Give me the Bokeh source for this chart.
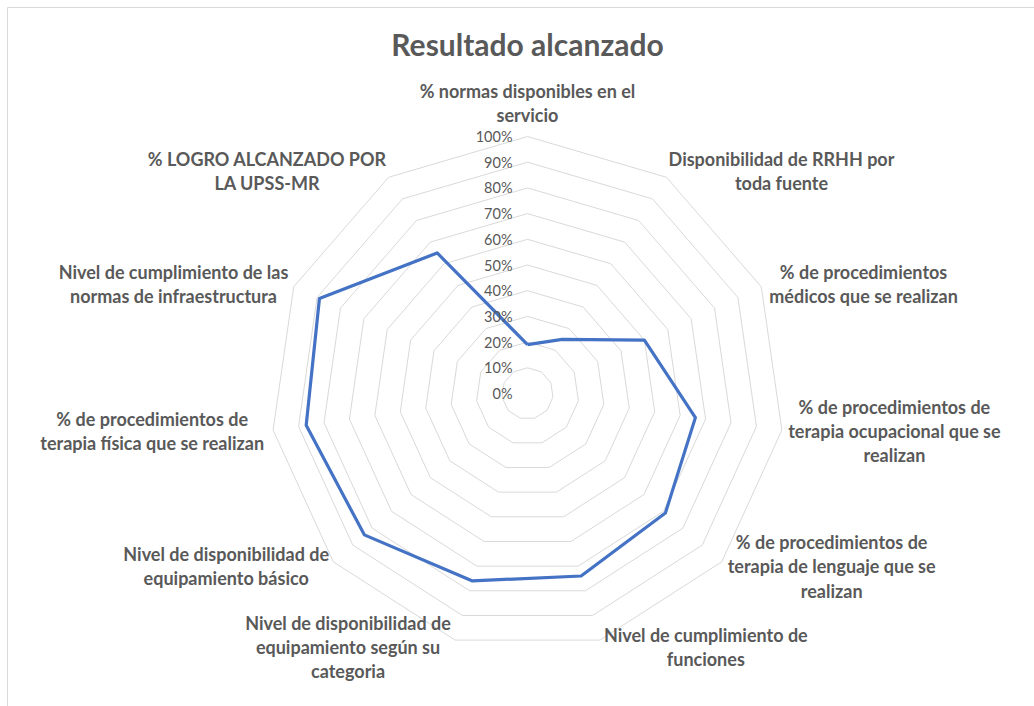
import numpy as np
from bokeh.plotting import figure
from bokeh.models import Range1d
from bokeh.core.properties import value
from bokeh.embed import file_html
from bokeh.resources import INLINE

# ---------------- data ----------------
categories = [
    "% normas disponibles en el\nservicio",
    "Disponibilidad de RRHH por\ntoda fuente",
    "% de procedimientos\nmédicos que se realizan",
    "% de procedimientos de\nterapia ocupacional que se\nrealizan",
    "% de procedimientos de\nterapia de lenguaje que se\nrealizan",
    "Nivel de cumplimiento de\nfunciones",
    "Nivel de disponibilidad de\nequipamiento según su\ncategoria",
    "Nivel de disponibilidad de\nequipamiento básico",
    "% de procedimientos de\nterapia física que se realizan",
    "Nivel de cumplimiento de las\nnormas de infraestructura",
    "% LOGRO ALCANZADO POR\nLA UPSS-MR",
]
values = [0.19, 0.25, 0.50, 0.66, 0.71, 0.74, 0.76, 0.84, 0.87, 0.89, 0.65]
ticks = [0.0, 0.1, 0.2, 0.3, 0.4, 0.5, 0.6, 0.7, 0.8, 0.9, 1.0]
tick_labels = ["0%", "10%", "20%", "30%", "40%", "50%", "60%", "70%", "80%", "90%", "100%"]
title_text = "Resultado alcanzado"

# ---------------- layout ----------------
W, H = 1034, 706
CX, CY, R = 527, 393, 257  # centre (px) and 100% radius (px)
LABEL_FONT = "Lato"
LABEL_SIZE = 18
LINE_PX = 23.5
GREY = "#595959"

n = len(categories)
theta = np.arange(n) * 2 * np.pi / n
sx, cy = np.sin(theta), np.cos(theta)

p = figure(width=W, height=H, output_backend="svg", toolbar_location=None,
           x_range=Range1d(-CX / R, (W - CX) / R),
           y_range=Range1d(-(H - CY) / R, CY / R),
           min_border=0, min_border_left=0, min_border_right=0,
           min_border_top=0, min_border_bottom=0)
p.axis.visible = False
p.grid.visible = False
p.outline_line_color = None
p.background_fill_color = "white"
p.border_fill_color = "white"

# chart area border (left and top edges visible)
bx = (7 - CX) / R
by = (CY - 7) / R
p.line([bx, bx, (W + 20 - CX) / R], [-(H + 20 - CY) / R, by, by],
       line_color="#d9d9d9", line_width=1)

# rings
ring_xs, ring_ys = [], []
for t in ticks[1:]:
    ring_xs.append(list(t * np.append(sx, sx[0])))
    ring_ys.append(list(t * np.append(cy, cy[0])))
p.multi_line(ring_xs, ring_ys, line_color="#d9d9d9", line_width=1)

# data series
vx = np.array(values) * sx
vy = np.array(values) * cy
p.line(list(np.append(vx, vx[0])), list(np.append(vy, vy[0])),
       line_color="#4472C4", line_width=3.2, line_join="round")

# tick labels
p.text(x=[0] * len(ticks), y=ticks, text=tick_labels, x_offset=-15,
       text_align="right", text_baseline="middle",
       text_font=value(LABEL_FONT), text_font_size="14.5px", text_color=GREY)


# category labels
def char_w(c):
    if c in "iljíI.":
        return 0.26
    if c in "tfr":
        return 0.35
    if c == " ":
        return 0.25
    if c in "mM":
        return 0.83
    if c in "wW":
        return 0.77
    if c == "%":
        return 0.78
    if c in "-":
        return 0.36
    if c.isupper():
        return 0.67
    return 0.54


def block_w(s):
    return max(sum(char_w(c) for c in line) for line in s.split("\n")) * LABEL_SIZE


xo, yo = [], []
for i, lab in enumerate(categories):
    nl = lab.count("\n") + 1
    bw = block_w(lab)
    if abs(sx[i]) < 1e-6:
        xo.append(0)
        bh = nl * LINE_PX
        yo.append(-(10 + bh / 2))
    else:
        side = 1 if sx[i] > 0 else -1
        xo.append(side * (5 + bw / 2))
        yo.append(-7 * cy[i])
p.text(x=list(sx), y=list(cy), text=categories, x_offset=xo, y_offset=yo,
       text_align="center", text_baseline="middle", text_line_height=1.1,
       text_font=value(LABEL_FONT), text_font_style="bold",
       text_font_size=f"{LABEL_SIZE}px", text_color=GREY)

# title
p.text(x=[0], y=[1 + (136 - 43) / R], text=[title_text],
       text_align="center", text_baseline="middle",
       text_font=value(LABEL_FONT), text_font_style="bold",
       text_font_size="30px", text_color=GREY)

open("out.html", "w").write(file_html(p, INLINE))
